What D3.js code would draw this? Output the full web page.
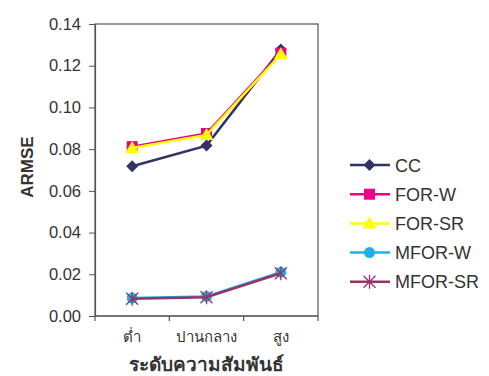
<!DOCTYPE html>
<html><head><meta charset="utf-8">
<script src="https://cdn.jsdelivr.net/npm/d3@7"></script>
<style>
html,body{margin:0;padding:0;background:#fff;}
svg text{font-family:"Liberation Sans",Arial,sans-serif;fill:#333;}
</style></head>
<body>
<svg id="chart" width="489" height="376"></svg>
<script>
// Correlation levels (x categories)
const categories = ["ต่ำ", "ปานกลาง", "สูง"];
// ARMSE per method
const seriesNames = ["CC", "FOR-W", "FOR-SR", "MFOR-W", "MFOR-SR"];
const cc     = [0.0718, 0.0817, 0.1278];
const forW   = [0.0812, 0.0875, 0.1260];
const forSR  = [0.0805, 0.0868, 0.1255];
const mforW  = [0.0086, 0.0094, 0.0210];
const mforSR = [0.0083, 0.0090, 0.0205];
const yTicks = [0, 0.02, 0.04, 0.06, 0.08, 0.10, 0.12, 0.14];

const series = [
  {name: seriesNames[0], values: cc,     color: "#333366", marker: "diamond"},
  {name: seriesNames[1], values: forW,   color: "#ec008c", marker: "square"},
  {name: seriesNames[2], values: forSR,  color: "#ffff00", marker: "triangle"},
  {name: seriesNames[3], values: mforW,  color: "#1ab2ea", marker: "circle"},
  {name: seriesNames[4], values: mforSR, color: "#993366", marker: "star"}
];

const svg = d3.select("#chart");
const m = {left: 95, right: 171, top: 24, bottom: 60};
const W = 489 - m.left - m.right, H = 376 - m.top - m.bottom;
const g = svg.append("g").attr("transform", `translate(${m.left},${m.top})`);

const x = d3.scaleBand().domain(categories).range([0, W]);
const y = d3.scaleLinear().domain([0, 0.14]).range([H, 0]);

// plot frame
g.append("rect").attr("width", W).attr("height", H)
  .attr("fill", "none").attr("stroke", "#555").attr("stroke-width", 1.2);

// y axis
const ya = g.append("g").call(d3.axisLeft(y).tickValues(yTicks).tickFormat(d3.format(".2f")).tickSize(6).tickPadding(8));
ya.select(".domain").attr("stroke", "#555").attr("stroke-width", 1.2);
ya.selectAll(".tick line").attr("stroke", "#555");
ya.selectAll("text").style("font-size", "16.5px").attr("fill", "#333");

// x axis: ticks at category boundaries, labels in band centers
const xa = g.append("g").attr("transform", `translate(0,${H})`);
xa.append("line").attr("x1", 0).attr("x2", W).attr("stroke", "#555").attr("stroke-width", 1.2);
const bounds = [0].concat(categories.map(c => x(c) + x.bandwidth()));
xa.selectAll("line.tk").data(bounds).join("line").attr("class", "tk")
  .attr("x1", d => d).attr("x2", d => d).attr("y1", 0).attr("y2", 5)
  .attr("stroke", "#555").attr("stroke-width", 1.2);
xa.selectAll("text").data(categories).join("text")
  .attr("x", d => x(d) + x.bandwidth() / 2).attr("y", 26)
  .attr("text-anchor", "middle").style("font-size", "15px").text(d => d);

// axis titles
svg.append("text").attr("x", m.left + W / 2).attr("y", 371)
  .attr("text-anchor", "middle").style("font-size", "19px").style("font-weight", "bold")
  .text("ระดับความสัมพันธ์");
svg.append("text").attr("transform", "translate(33,167) rotate(-90)")
  .attr("text-anchor", "middle").style("font-size", "17px").style("font-weight", "bold")
  .text("ARMSE");

function drawMarker(sel, s, cx, cy) {
  const c = s.color;
  if (s.marker === "diamond") {
    sel.append("path").attr("d", `M${cx},${cy-6}L${cx+6},${cy}L${cx},${cy+6}L${cx-6},${cy}Z`).attr("fill", c);
  } else if (s.marker === "square") {
    sel.append("rect").attr("x", cx-5.5).attr("y", cy-5.5).attr("width", 11).attr("height", 11).attr("fill", c);
  } else if (s.marker === "triangle") {
    sel.append("path").attr("d", `M${cx},${cy-7}L${cx+7},${cy+5}L${cx-7},${cy+5}Z`).attr("fill", c);
  } else if (s.marker === "circle") {
    sel.append("circle").attr("cx", cx).attr("cy", cy).attr("r", 5.5).attr("fill", c);
  } else if (s.marker === "star") {
    const r = 6;
    sel.append("path").attr("d",
      `M${cx-r},${cy-r}L${cx+r},${cy+r}M${cx-r},${cy+r}L${cx+r},${cy-r}M${cx},${cy-r-1}L${cx},${cy+r+1}`)
      .attr("stroke", c).attr("stroke-width", 1.3).attr("fill", "none");
  }
}

const line = d3.line().x((d, i) => x(categories[i]) + x.bandwidth() / 2).y(d => y(d));
series.forEach(s => {
  const sg = g.append("g");
  sg.append("path").datum(s.values).attr("d", line)
    .attr("fill", "none").attr("stroke", s.color).attr("stroke-width", 2.5);
  s.values.forEach((v, i) => drawMarker(sg, s, x(categories[i]) + x.bandwidth() / 2, y(v)));
});

// legend
const lg = svg.append("g").attr("transform", "translate(350,165)");
series.forEach((s, i) => {
  const row = lg.append("g").attr("transform", `translate(0,${i * 29.2})`);
  row.append("line").attr("x1", 0).attr("x2", 40).attr("stroke", s.color).attr("stroke-width", 2.5);
  drawMarker(row, s, 19.5, 0);
  row.append("text").attr("x", 45).attr("y", 6.5).style("font-size", "18px").text(s.name);
});
</script>
</body></html>
